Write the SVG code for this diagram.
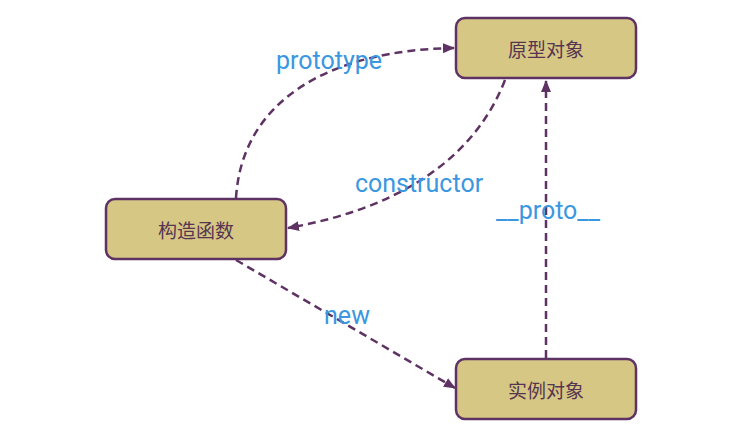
<svg xmlns="http://www.w3.org/2000/svg" width="734" height="443" viewBox="0 0 734 443">
<style>
.node rect{fill:#D6C785;stroke:#5E3364;stroke-width:2.5}
.node text{font-family:"Noto Sans CJK SC","Noto Sans",sans-serif;font-size:19px;fill:#553550;text-anchor:middle;dominant-baseline:central}
.edge{fill:none;stroke:#5E3364;stroke-width:2.5;stroke-dasharray:8 5;marker-end:url(#arr)}
.lbl{font-family:Roboto,"Liberation Sans",sans-serif;font-size:25px;fill:#3A97E0;text-anchor:middle}
</style>
<defs>
<marker id="arr" viewBox="0 0 12 10" refX="11" refY="5" markerWidth="12" markerHeight="10" markerUnits="userSpaceOnUse" orient="auto">
<path d="M0,0 L12,5 L0,10 z" fill="#5E3364"/>
</marker>
</defs>
<rect width="734" height="443" fill="#fff"/>
<g id="connectors">
<path class="edge" d="M236,198 C242,100 330,50 454,48"/>
<path class="edge" d="M505,80 C472,165 390,210 288,228"/>
<path class="edge" d="M236,260 L455,388"/>
<path class="edge" d="M546,358 L546,81"/>
<text class="lbl" x="329" y="69">prototype</text>
<text class="lbl" x="419" y="192">constructor</text>
<text class="lbl" x="548" y="219">__proto__</text>
<text class="lbl" x="347" y="324">new</text>
</g>
<g id="node-prototype" class="node"><rect x="456" y="18" width="180" height="60" rx="9"/><text x="546" y="48">原型对象</text></g>
<g id="node-constructor" class="node"><rect x="106" y="199" width="180" height="60" rx="9"/><text x="196" y="229">构造函数</text></g>
<g id="node-instance" class="node"><rect x="456" y="359" width="180" height="60" rx="9"/><text x="546" y="389">实例对象</text></g>
</svg>
